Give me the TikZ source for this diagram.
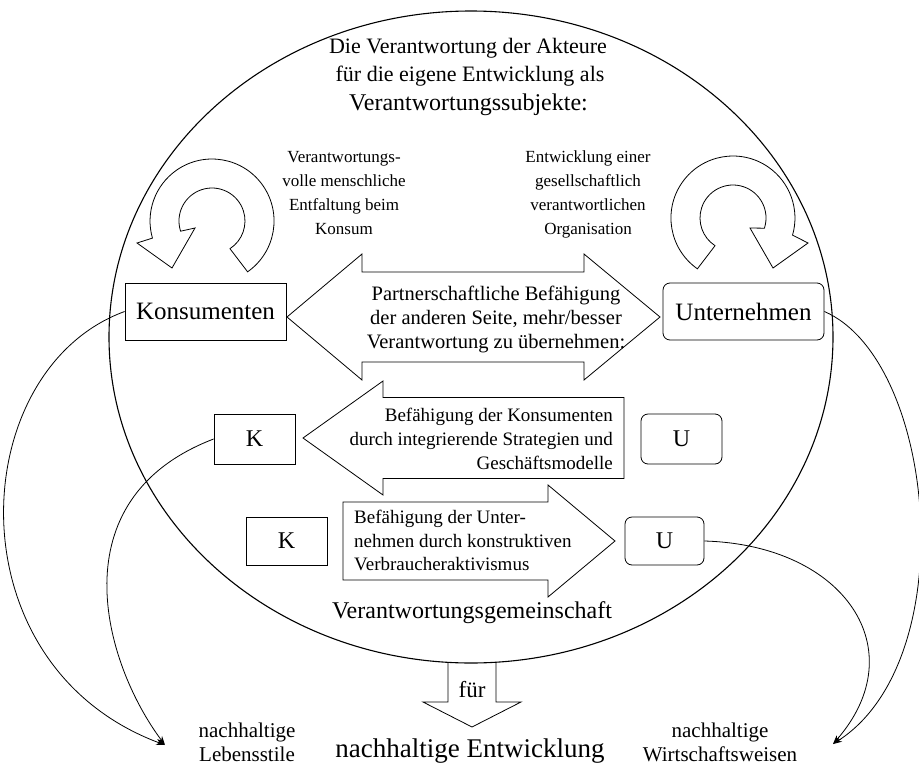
\documentclass[tikz,border=0pt]{standalone}
\usepackage{fontspec}
\setmainfont{Liberation Serif}
\usetikzlibrary{arrows.meta,shapes.geometric}
\newcommand\fsz[1]{\fontsize{#1}{#1}\selectfont}
\begin{document}
\begin{tikzpicture}[x=1pt,y=1pt,
  lbl/.style={inner sep=0pt, anchor=base},
  lble/.style={inner sep=0pt, anchor=base east},
  lblw/.style={inner sep=0pt, anchor=base west},
  box/.style={draw, line width=0.8pt, inner sep=0pt},
  rbox/.style={box, rounded corners=7pt},
  blk/.style={draw, line width=0.8pt, line join=miter},
  conn/.style={line width=0.8pt, -{Stealth[length=9pt,width=6pt]}}]
\useasboundingbox (0,0) rectangle (919,-766);

% community ellipse
\node[draw, ellipse, line width=1.1pt, minimum width=724, minimum height=652, inner sep=0pt] (comm) at (471,-337) {};

% title
\node[lbl, font=\fsz{22}] (ti1) at (468,-53) {Die Verantwortung der Akteure};
\node[lbl, font=\fsz{22}] (ti2) at (470,-81) {für die eigene Entwicklung als};
\node[lbl, font=\fsz{24}] (ti3) at (468.5,-110) {Verantwortungssubjekte:};

% circular arrows
\draw[blk] (247.6,-271.8) arc[start angle=-55, end angle=196, radius=62]
  -- (137,-243) -- (172,-268) -- (195,-228) -- (180.6,-231.2)
  arc[start angle=198, end angle=-57, radius=33] -- cycle;
\draw[blk] (697.4,-268.8) arc[start angle=235, end angle=-16, radius=62]
  -- (808,-243) -- (773,-268) -- (750,-228) -- (764.4,-228.2)
  arc[start angle=-18, end angle=237, radius=33] -- cycle;

% side texts
\node[lbl, font=\fsz{17}] (l1) at (344,-162) {Verantwortungs-};
\node[lbl, font=\fsz{17}] (l2) at (344,-186) {volle menschliche};
\node[lbl, font=\fsz{17}] (l3) at (344,-210) {Entfaltung beim};
\node[lbl, font=\fsz{17}] (l4) at (344,-234) {Konsum};
\node[lbl, font=\fsz{17}] (r1) at (588,-162) {Entwicklung einer};
\node[lbl, font=\fsz{17}] (r2) at (588,-186) {gesellschaftlich};
\node[lbl, font=\fsz{17}] (r3) at (588,-210) {verantwortlichen};
\node[lbl, font=\fsz{17}] (r4) at (588,-234) {Organisation};

% actor boxes
\node[box, minimum width=161, minimum height=57, font=\fsz{25}] (kons) at (205.5,-311.5) {Konsumenten};
\node[rbox, minimum width=161, minimum height=57, font=\fsz{25}] (unt) at (743.5,-311.5) {Unternehmen};
\node[box, minimum width=81, minimum height=50, font=\fsz{24}] (k2) at (254.5,-439) {K};
\node[rbox, minimum width=81, minimum height=50, font=\fsz{24}] (u2) at (681.5,-439) {U};
\node[box, minimum width=81, minimum height=48, font=\fsz{24}] (k3) at (286.5,-541) {K};
\node[rbox, minimum width=79, minimum height=48, font=\fsz{24}] (u3) at (664.5,-541) {U};

% double block arrow
\draw[blk] (287,-317) -- (362,-254) -- (362,-272) -- (584,-272) -- (584,-254) -- (660,-317)
  -- (584,-380) -- (584,-362) -- (362,-362) -- (362,-380) -- cycle;
\node[lbl, font=\fsz{20.5}] (d1) at (496,-300) {Partnerschaftliche Befähigung};
\node[lbl, font=\fsz{20.5}] (d2) at (496,-324) {der anderen Seite, mehr/besser};
\node[lbl, font=\fsz{20.5}] (d3) at (496,-348) {Verantwortung zu übernehmen:};

% left block arrow
\draw[blk] (303,-438) -- (383,-381) -- (383,-397.5) -- (624,-397.5) -- (624,-478.5)
  -- (383,-478.5) -- (383,-495) -- cycle;
\node[lble, font=\fsz{19}] (a1) at (613,-421) {Befähigung der Konsumenten};
\node[lble, font=\fsz{19}] (a2) at (613,-445) {durch integrierende Strategien und};
\node[lble, font=\fsz{19}] (a3) at (613,-469) {Geschäftsmodelle};

% right block arrow
\draw[blk] (343,-502) -- (548,-502) -- (548,-485) -- (615,-541) -- (548,-597)
  -- (548,-580) -- (343,-580) -- cycle;
\node[lblw, font=\fsz{19}] (b1) at (354,-523) {Befähigung der Unter-};
\node[lblw, font=\fsz{19}] (b2) at (354,-547) {nehmen durch konstruktiven};
\node[lblw, font=\fsz{19}] (b3) at (354,-570) {Verbraucheraktivismus};

\node[lbl, font=\fsz{24}] (vg) at (472,-618) {Verantwortungsgemeinschaft};

% down arrow "für"
\draw[blk] (448,-663) -- (448,-702) -- (423,-702) -- (472,-727) -- (521,-702) -- (496,-702) -- (496,-663);
\node[lbl, font=\fsz{23}] (fuer) at (472,-697) {für};

% bottom texts
\node[lbl, font=\fsz{27}] (ne) at (470,-757) {nachhaltige Entwicklung};
\node[lbl, font=\fsz{21}] (nl1) at (247,-737) {nachhaltige};
\node[lbl, font=\fsz{21}] (nl2) at (247,-761) {Lebensstile};
\node[lbl, font=\fsz{21}] (nw1) at (720,-737) {nachhaltige};
\node[lbl, font=\fsz{21}] (nw2) at (720,-761) {Wirtschaftsweisen};

% connectors
\coordinate (tipL) at (165,-745);
\coordinate (tipR) at (833,-744);
\draw[conn] (kons.west) .. controls (-35,-370) and (-50,-665) .. (tipL);
\draw[conn] (k2.west) .. controls (57,-499) and (103,-662) .. (tipL);
\draw[conn] (unt.east) .. controls (936,-360) and (964,-660) .. (tipR);
\draw[conn] (u3.east) .. controls (845,-545) and (915,-650) .. (tipR);
\end{tikzpicture}
\end{document}
